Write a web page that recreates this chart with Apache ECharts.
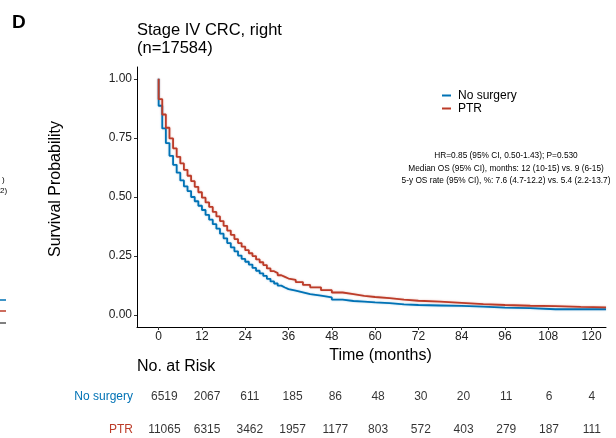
<!DOCTYPE html>
<html>
<head>
<meta charset="utf-8">
<script src="https://cdn.jsdelivr.net/npm/echarts@6/dist/echarts.min.js"></script>
<style>
  html, body { margin: 0; padding: 0; background: #fff; }
  #chart { width: 616px; height: 438px; }
</style>
</head>
<body>
<div id="chart"></div>
<script>
// KM curve (months, survival)
var months = [0, 0, 1, 2, 3, 4, 5, 6, 7, 8, 9, 10, 11, 12, 13, 14, 15, 16, 17, 18, 19, 20,
    21, 22, 23, 24, 25, 26, 27, 28, 29, 30, 31, 32, 33, 34, 35, 36,
    38, 40, 42, 45, 48, 51, 54, 57, 60, 64, 68, 72, 78, 84, 90, 96, 103, 110, 117, 124];
var noSurgery = [1.000, 0.886, 0.790, 0.728, 0.674, 0.636, 0.603, 0.570, 0.545, 0.525, 0.500,
    0.482, 0.463, 0.445, 0.424, 0.404, 0.385, 0.366, 0.345, 0.325, 0.305, 0.287,
    0.270, 0.252, 0.238, 0.226, 0.214, 0.200, 0.188, 0.177, 0.166, 0.154, 0.143, 0.134,
    0.125, 0.117, 0.110, 0.104,
    0.097, 0.089, 0.083, 0.075, 0.066, 0.060, 0.057, 0.054, 0.051, 0.046, 0.043, 0.041,
    0.039, 0.036, 0.032, 0.030, 0.025, 0.025, 0.025, 0.025];
var ptr = [1.000, 0.914, 0.849, 0.793, 0.748, 0.706, 0.670, 0.642, 0.615, 0.590, 0.567,
    0.543, 0.520, 0.497, 0.477, 0.458, 0.437, 0.418, 0.398, 0.378, 0.358, 0.340,
    0.322, 0.305, 0.290, 0.275, 0.262, 0.250, 0.236, 0.224, 0.212, 0.198, 0.186, 0.178,
    0.169, 0.162, 0.155, 0.149,
    0.140, 0.128, 0.118, 0.106, 0.096, 0.089, 0.082, 0.077, 0.072, 0.066, 0.061, 0.057,
    0.052, 0.047, 0.043, 0.040, 0.038, 0.035, 0.033, 0.031];

// axis ticks
var xTicks = [0, 12, 24, 36, 48, 60, 72, 84, 96, 108, 120];
var yTicks = [0, 0.25, 0.5, 0.75, 1];

// number at risk table
var riskTimes = [0, 12, 24, 36, 48, 60, 72, 84, 96, 108, 120];
var riskNoSurgery = [6519, 2067, 611, 185, 86, 48, 30, 20, 11, 6, 4];
var riskPTR = [11065, 6315, 3462, 1957, 1177, 803, 572, 403, 279, 187, 111];

var BLUE = '#0072B5';
var RED = '#BC3C29';
var FONT = '"Liberation Sans", Arial, sans-serif';

function pairs(ys) {
    return months.map(function (t, i) { return [t, ys[i]]; });
}
function riskRow(name, counts) {
    return riskTimes.map(function (t, i) { return [t, name, counts[i]]; });
}

var myChart = echarts.init(document.getElementById('chart'), null, {renderer: 'canvas'});
myChart.setOption({
    animation: false,
    textStyle: {fontFamily: FONT},
    title: [
        {
            text: 'Stage IV CRC, right\n(n=17584)',
            left: 137,
            top: 21,
            padding: 0,
            textStyle: {fontSize: 16.5, fontWeight: 'normal', color: '#000', lineHeight: 18.5, fontFamily: FONT}
        },
        {
            text: 'No. at Risk',
            left: 137,
            top: 359,
            padding: 0,
            textStyle: {fontSize: 16, fontWeight: 'normal', color: '#000', fontFamily: FONT}
        }
    ],
    legend: {
        data: ['No surgery', 'PTR'],
        orient: 'vertical',
        left: 437,
        top: 84,
        icon: 'rect',
        itemWidth: 9,
        itemHeight: 2,
        itemGap: 0,
        textStyle: {fontSize: 12, color: '#000', lineHeight: 13, padding: [0, 0, 0, 2]}
    },
    grid: [
        {left: 137, right: 10, top: 67, bottom: 111},
        {left: 143, right: 10, top: 397, bottom: 8}
    ],
    xAxis: [
        {
            type: 'value',
            gridIndex: 0,
            min: -6,
            max: 124,
            name: 'Time (months)',
            nameLocation: 'middle',
            nameGap: 18,
            nameTextStyle: {fontSize: 16, color: '#000', padding: [0, 0, 0, 18]},
            axisLine: {show: true, onZero: false, lineStyle: {color: '#000', width: 1}},
            axisTick: {show: true, length: 3, customValues: xTicks, lineStyle: {color: '#333'}},
            axisLabel: {customValues: xTicks, margin: 4, fontSize: 12, color: '#222'},
            splitLine: {show: false}
        },
        {
            type: 'value',
            gridIndex: 1,
            min: -6,
            max: 124,
            show: false
        }
    ],
    yAxis: [
        {
            type: 'value',
            gridIndex: 0,
            min: -0.05,
            max: 1.05,
            name: 'Survival Probability',
            nameLocation: 'middle',
            nameGap: 73,
            nameTextStyle: {fontSize: 16, color: '#000', padding: [0, 0, 0, 16]},
            axisLine: {show: true, onZero: false, lineStyle: {color: '#000', width: 1}},
            axisTick: {show: true, length: 3, customValues: yTicks, lineStyle: {color: '#333'}},
            axisLabel: {
                customValues: yTicks,
                margin: 5,
                fontSize: 12,
                color: '#222',
                formatter: function (v) { return v.toFixed(2); }
            },
            splitLine: {show: false}
        },
        {
            type: 'category',
            gridIndex: 1,
            data: ['PTR', 'No surgery'],
            boundaryGap: false,
            axisLine: {show: false},
            axisTick: {show: false},
            splitLine: {show: false},
            axisLabel: {
                margin: 10,
                fontSize: 12,
                color: function (v) { return v === 'PTR' ? RED : BLUE; }
            }
        }
    ],
    series: [
        {
            name: 'No surgery',
            type: 'line',
            step: 'end',
            symbol: 'none',
            color: BLUE,
            lineStyle: {width: 1.8, color: BLUE, shadowColor: 'rgba(0,114,181,0.35)', shadowBlur: 2},
            data: pairs(noSurgery)
        },
        {
            name: 'PTR',
            type: 'line',
            step: 'end',
            symbol: 'none',
            color: RED,
            lineStyle: {width: 1.8, color: RED, shadowColor: 'rgba(188,60,41,0.35)', shadowBlur: 2},
            data: pairs(ptr)
        },
        {
            name: 'risk no surgery',
            type: 'scatter',
            xAxisIndex: 1,
            yAxisIndex: 1,
            symbolSize: 1,
            clip: false,
            itemStyle: {color: 'rgba(0,0,0,0)'},
            label: {
                show: true,
                position: 'inside',
                fontSize: 12,
                color: '#000',
                formatter: function (p) { return p.value[2]; }
            },
            data: riskRow('No surgery', riskNoSurgery)
        },
        {
            name: 'risk ptr',
            type: 'scatter',
            xAxisIndex: 1,
            yAxisIndex: 1,
            symbolSize: 1,
            clip: false,
            itemStyle: {color: 'rgba(0,0,0,0)'},
            label: {
                show: true,
                position: 'inside',
                fontSize: 12,
                color: '#000',
                formatter: function (p) { return p.value[2]; }
            },
            data: riskRow('PTR', riskPTR)
        }
    ],
    graphic: [
        {
            type: 'text',
            left: 12,
            top: 13,
            style: {text: 'D', fill: '#000', font: 'bold 19px ' + FONT}
        },
        {
            type: 'text',
            x: 506,
            y: 150,
            style: {
                text: 'HR=0.85 (95% CI, 0.50-1.43); P=0.530\n' +
                    'Median OS (95% CI), months: 12 (10-15) vs. 9 (6-15)\n' +
                    '5-y OS rate (95% CI), %: 7.6 (4.7-12.2) vs. 5.4 (2.2-13.7)',
                font: '8.3px ' + FONT,
                lineHeight: 12.2,
                align: 'center',
                fill: '#000'
            }
        },
        // bits of the neighbouring panel cut off at the left edge
        {type: 'text', x: 2, y: 176, style: {text: ')', font: '8px ' + FONT, fill: '#000'}},
        {type: 'text', x: 0, y: 187, style: {text: '2)', font: '8px ' + FONT, fill: '#000'}},
        {type: 'line', shape: {x1: 0, y1: 300, x2: 6, y2: 300}, style: {stroke: BLUE, lineWidth: 1.5}},
        {type: 'line', shape: {x1: 0, y1: 311, x2: 6, y2: 311}, style: {stroke: RED, lineWidth: 1.5}},
        {type: 'line', shape: {x1: 0, y1: 323, x2: 6, y2: 323}, style: {stroke: '#000', lineWidth: 1}}
    ]
});
</script>
</body>
</html>
